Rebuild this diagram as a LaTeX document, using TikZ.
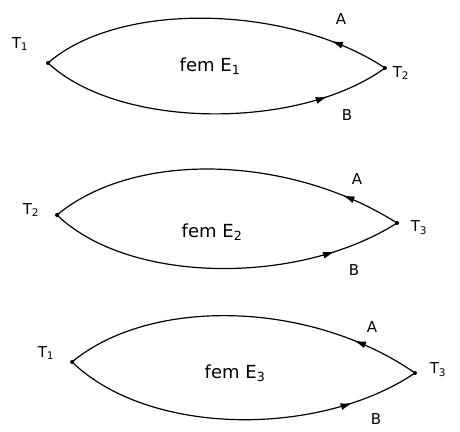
\documentclass[tikz,border=0pt]{standalone}
\usepackage{fontspec}
\setmainfont{DejaVu Sans}
\usetikzlibrary{decorations.markings,arrows.meta}
\newcommand{\sbs}[1]{\textsubscript{#1}}
\begin{document}
\begin{tikzpicture}[x=1pt,y=-1pt,
  wire/.style={line width=1.2pt},
  dotnode/.style={circle, fill, inner sep=0pt, minimum size=4pt},
  lbl/.style={font=\fontsize{15}{17}\selectfont, inner sep=1pt},
  emf/.style={font=\fontsize{18}{20}\selectfont, inner sep=1pt},
  fwd/.style={postaction={decorate, decoration={markings, mark=at position #1 with {\arrow{Latex[length=12pt,width=7pt]}}}}},
  bwd/.style={postaction={decorate, decoration={markings, mark=at position #1 with {\arrowreversed{Latex[length=12pt,width=7pt]}}}}}]
\useasboundingbox (0,0) rectangle (460,431);
% Diagram 1
\node[dotnode] (a1) at (48,63) {};
\node[dotnode] (b1) at (385,68) {};
\draw[wire, bwd=0.83] (a1.center) .. controls (120,0) and (290,5) .. (b1.center);
\draw[wire, fwd=0.82] (a1.center) .. controls (120,130) and (300,130) .. (b1.center);
\node[lbl] (t11) at (20,44) {T\sbs{1}};
\node[lbl] (t12) at (401,73) {T\sbs{2}};
\node[lbl] (la1) at (341,19) {A};
\node[lbl] (lb1) at (347,115) {B};
\node[emf] (e1) at (210,66) {fem E\sbs{1}};
% Diagram 2
\node[dotnode] (a2) at (57,215) {};
\node[dotnode] (b2) at (397,223) {};
\draw[wire, bwd=0.83] (a2.center) .. controls (135,150) and (290,155) .. (b2.center);
\draw[wire, fwd=0.81] (a2.center) .. controls (130,285) and (300,285) .. (b2.center);
\node[lbl] (t22) at (31,210) {T\sbs{2}};
\node[lbl] (t23) at (419,228) {T\sbs{3}};
\node[lbl] (la2) at (357,179) {A};
\node[lbl] (lb2) at (354,270) {B};
\node[emf] (e2) at (212,232) {fem E\sbs{2}};
% Diagram 3
\node[dotnode] (a3) at (72,362) {};
\node[dotnode] (b3) at (415,373) {};
\draw[wire, bwd=0.81] (a3.center) .. controls (150,297) and (310,300) .. (b3.center);
\draw[wire, fwd=0.81] (a3.center) .. controls (150,437) and (320,437) .. (b3.center);
\node[lbl] (t31) at (46,353) {T\sbs{1}};
\node[lbl] (t33) at (438,370) {T\sbs{3}};
\node[lbl] (la3) at (372,327) {A};
\node[lbl] (lb3) at (376,419) {B};
\node[emf] (e3) at (235,373) {fem E\sbs{3}};
\end{tikzpicture}
\end{document}
